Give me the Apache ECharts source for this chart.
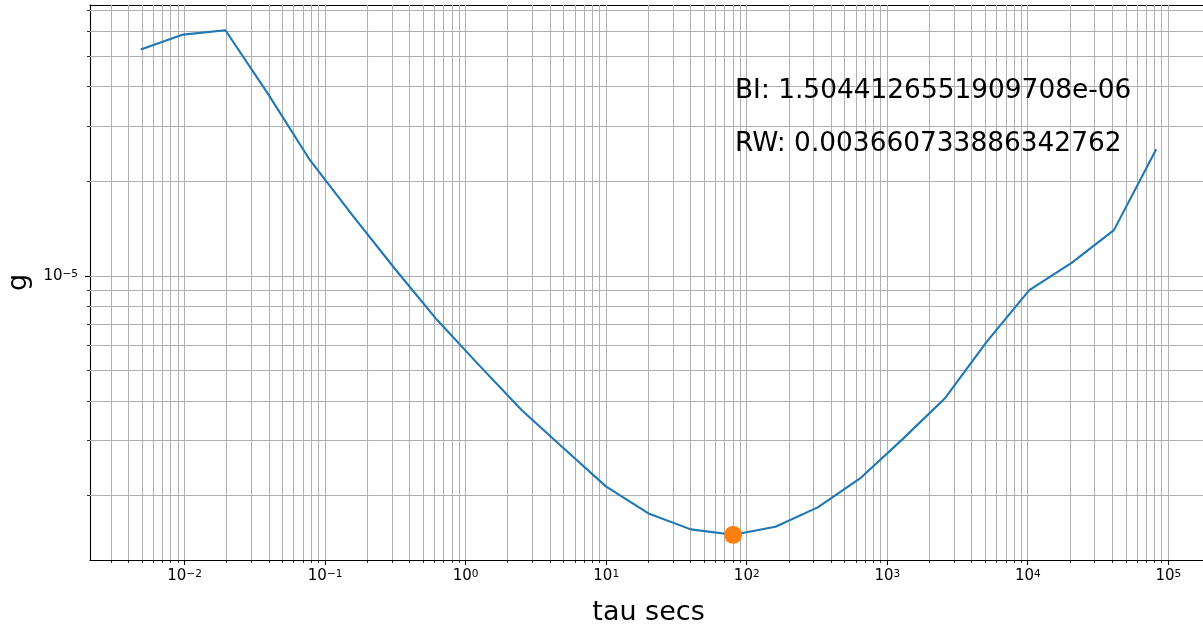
<!DOCTYPE html>
<html><head><meta charset="utf-8">
<script src="https://cdn.jsdelivr.net/npm/echarts@6/dist/echarts.min.js"></script>
<style>html,body{margin:0;padding:0;background:#fff}#c{width:1203px;height:629px}</style>
</head><body><div id="c"></div>
<script>
// ---- data ----
const taus = [0.0048828125, 0.009765625, 0.01953125, 0.0390625, 0.078125, 0.15625, 0.3125, 0.625, 1.25, 2.5, 5, 10, 20, 40, 80, 160, 320, 640, 1280, 2560, 5120, 10240, 20480, 40960, 81920];
const adev = [5.25e-5, 5.86e-5, 6.05e-5, 3.81e-5, 2.336e-5, 1.562e-5, 1.057e-5, 7.26e-6, 5.20e-6, 3.75e-6, 2.83e-6, 2.14e-6, 1.759e-6, 1.565e-6, 1.5044e-6, 1.596e-6, 1.838e-6, 2.273e-6, 3.025e-6, 4.08e-6, 6.20e-6, 9.02e-6, 1.102e-5, 1.40e-5, 2.532e-5];
const minorMultipliers = [2, 3, 4, 5, 6, 7, 8, 9];
const annotationLines = ['BI: 1.5044126551909708e-06', 'RW: 0.003660733886342762'];
const xName = 'tau secs';
const yName = 'g';

// ---- axis extents like matplotlib autoscale (5% margins in log space) ----
function logBounds(arr) {
  const lo = Math.log10(Math.min(...arr)), hi = Math.log10(Math.max(...arr));
  const m = (hi - lo) * 0.05;
  return [Math.pow(10, lo - m), Math.pow(10, hi + m)];
}
const [xMin, xMax] = logBounds(taus);
const [yMin, yMax] = logBounds(adev);

function logTicks(lo, hi) {
  const out = [];
  for (let e = Math.floor(Math.log10(lo)); e <= Math.ceil(Math.log10(hi)); e++) {
    [1].concat(minorMultipliers).forEach(m => {
      const v = m * Math.pow(10, e);
      if (v >= lo && v <= hi) out.push({ v: v, major: m === 1 ? 1 : 0 });
    });
  }
  return out;
}
const xTicks = logTicks(xMin, xMax);
const yTicks = logTicks(yMin, yMax);

let iMin = 0;
adev.forEach((v, i) => { if (v < adev[iMin]) iMin = i; });

const FONT = 'DejaVu Sans';
const snap = p => Math.round(p - 0.5) + 0.5;

function supLabel(v) {
  const e = Math.log10(v), r = Math.round(e);
  if (Math.abs(e - r) > 1e-6) return '';
  return '{b|10}{s|' + (r < 0 ? '\u2212' : '') + Math.abs(r) + '}';
}
const richLab = {
  b: { fontSize: 15, fontFamily: FONT, color: '#000', lineHeight: 15, verticalAlign: 'bottom' },
  s: { fontSize: 10.5, fontFamily: FONT, color: '#000', lineHeight: 10.5, verticalAlign: 'top', padding: [0, 0, 7, 0] }
};

const chart = echarts.init(document.getElementById('c'), null, { renderer: 'canvas' });
chart.setOption({
  animation: false,
  backgroundColor: '#fff',
  grid: { left: 90, top: 5, right: -4, bottom: 69, show: false, containLabel: false, outerBoundsMode: 'none' },
  xAxis: [{
    type: 'log', logBase: 10, min: xMin, max: xMax,
    name: xName, nameLocation: 'middle', nameGap: 39,
    nameTextStyle: { fontSize: 27, fontFamily: FONT, color: '#000' },
    axisLine: { show: true, lineStyle: { color: '#000', width: 1.1 } },
    axisTick: { show: false }, splitLine: { show: false },
    axisLabel: { formatter: supLabel, rich: richLab, margin: 9 }
  }, {
    type: 'log', logBase: 10, min: xMin, max: xMax, position: 'top',
    axisLine: { show: true, lineStyle: { color: '#000', width: 1.1 } },
    axisTick: { show: false }, splitLine: { show: false }, axisLabel: { show: false }
  }],
  yAxis: {
    type: 'log', logBase: 10, min: yMin, max: yMax,
    name: yName, nameLocation: 'middle', nameGap: 56,
    nameTextStyle: { fontSize: 27, fontFamily: FONT, color: '#000' },
    axisLine: { show: true, lineStyle: { color: '#000', width: 1.1 } },
    axisTick: { show: false }, splitLine: { show: false },
    axisLabel: { formatter: supLabel, rich: richLab, margin: 12 }
  },
  graphic: annotationLines.map((t, i) => ({
    type: 'text', x: 735, y: 91 + i * 53, z: 10,
    style: { text: t, font: '26.4px "DejaVu Sans"', fill: '#000', verticalAlign: 'middle', align: 'left' }
  })),
  series: [
    {
      type: 'custom', name: 'xgrid', coordinateSystem: 'cartesian2d', silent: true, clip: false, z: 1,
      data: xTicks.map(t => [t.v, yMin, t.major]),
      encode: { x: 0, y: 1 },
      renderItem: function (params, api) {
        const v = api.value(0), major = api.value(2);
        const b = api.coord([v, yMin]), t = api.coord([v, yMax]);
        const x = snap(b[0]);
        return { type: 'group', children: [
          { type: 'line', shape: { x1: x, y1: b[1], x2: x, y2: t[1] }, style: { stroke: '#b0b0b0', lineWidth: 1 } },
          { type: 'line', shape: { x1: x, y1: b[1], x2: x, y2: b[1] + (major ? 5 : 3) }, style: { stroke: '#000', lineWidth: major ? 1.1 : 0.8 } }
        ] };
      }
    },
    {
      type: 'custom', name: 'ygrid', coordinateSystem: 'cartesian2d', silent: true, clip: false, z: 1,
      data: yTicks.map(t => [xMin, t.v, t.major]),
      encode: { x: 0, y: 1 },
      renderItem: function (params, api) {
        const v = api.value(1), major = api.value(2);
        const l = api.coord([xMin, v]), r = api.coord([xMax, v]);
        const y = snap(l[1]);
        return { type: 'group', children: [
          { type: 'line', shape: { x1: l[0], y1: y, x2: r[0], y2: y }, style: { stroke: '#b0b0b0', lineWidth: 1 } },
          { type: 'line', shape: { x1: l[0], y1: y, x2: l[0] - (major ? 5 : 3), y2: y }, style: { stroke: '#000', lineWidth: major ? 1.1 : 0.8 } }
        ] };
      }
    },
    {
      type: 'line', name: 'adev', z: 3,
      data: taus.map((t, i) => [t, adev[i]]),
      showSymbol: false, symbol: 'none',
      lineStyle: { color: '#1f77b4', width: 2.1 },
      itemStyle: { color: '#1f77b4' }
    },
    {
      type: 'scatter', name: 'min', z: 4,
      data: [[taus[iMin], adev[iMin]]],
      symbolSize: 18,
      itemStyle: { color: '#ff7f0e', opacity: 1 }
    }
  ]
});
</script>
</body></html>
